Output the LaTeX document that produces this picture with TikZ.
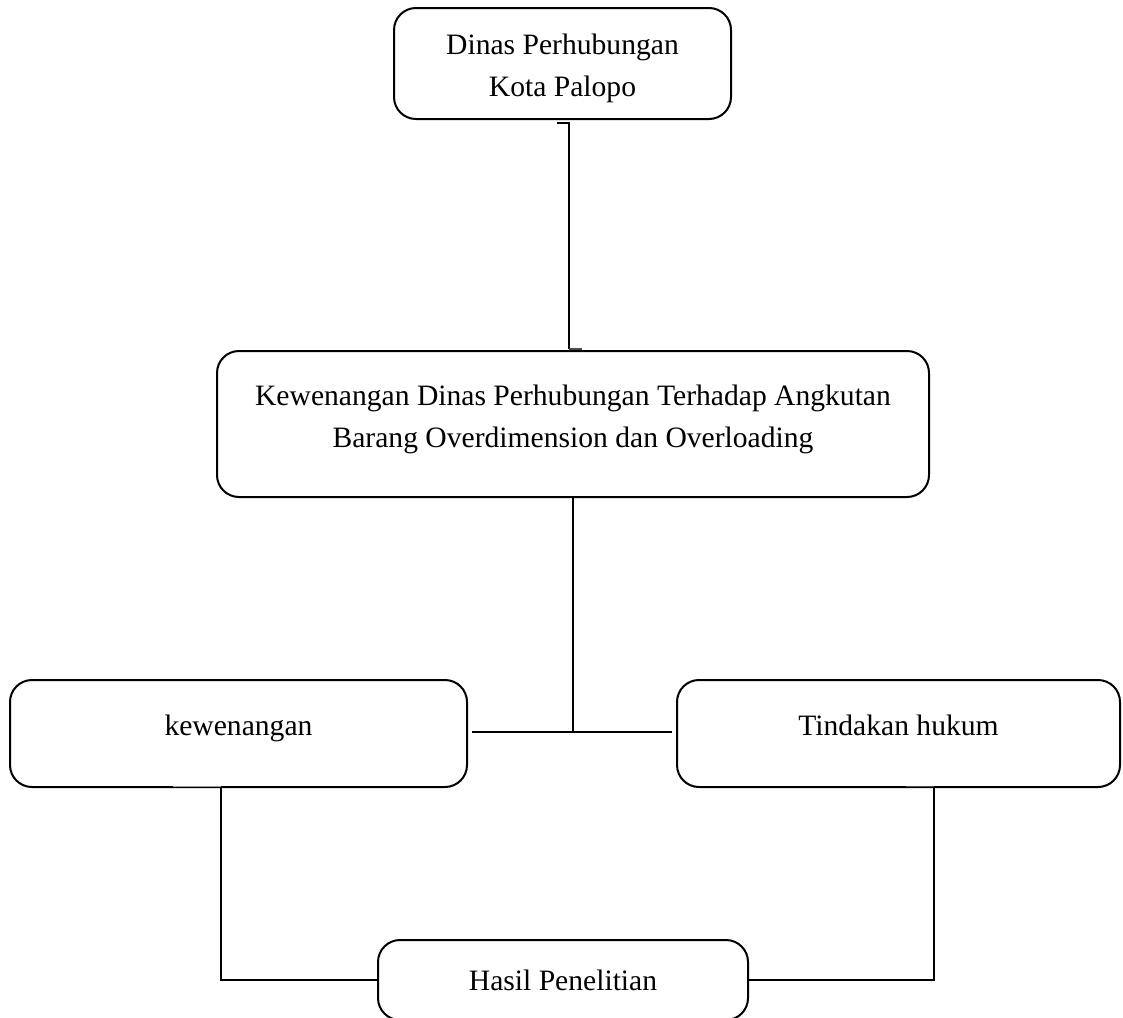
\documentclass[tikz,border=0pt]{standalone}
\usepackage{fontspec}
\setmainfont{Liberation Serif}
\usetikzlibrary{calc}
\newcommand{\boxtext}[2]{\raisebox{#1}[0pt][0pt]{\begin{tabular}[t]{@{}c@{}}#2\end{tabular}}}
\begin{document}
\begin{tikzpicture}[x=1pt,y=-1pt,
  box/.style={draw, line width=2pt, rounded corners=22pt, align=center, inner sep=0pt,
    font=\fontsize{29.6}{42}\selectfont},
  link/.style={line width=1.1pt},
  stub/.style={line width=1.6pt, black!70}]
\useasboundingbox (0,0) rectangle (1123,1017);
\node[box, minimum width=337pt, minimum height=111pt] (b1) at (562.5,63.5) {\boxtext{9pt}{Dinas Perhubungan\\Kota Palopo}};
\node[box, minimum width=712pt, minimum height=146pt] (b2) at (573,424) {\boxtext{19pt}{Kewenangan Dinas Perhubungan Terhadap Angkutan\\Barang Overdimension dan Overloading}};
\node[box, minimum width=457pt, minimum height=107pt] (kw) at (238.5,733.5) {\boxtext{-1.5pt}{kewenangan}};
\node[box, minimum width=443pt, minimum height=107pt] (th) at (898.5,733.5) {\boxtext{-1.5pt}{Tindakan hukum}};
\node[box, minimum width=370pt, minimum height=80pt, anchor=north] (hp) at (563,939) {\boxtext{-10.5pt}{Hasil Penelitian}};
% top connector
\coordinate (t1) at (569,123);
\coordinate (t2) at (569,349);
\draw[link] (557,123) -- (t1) -- (t2);
\draw[stub] (t2) -- (582,349);
% middle connector
\coordinate (mid) at (573,732);
\draw[link] (b2.south -| mid) -- (mid);
\draw[link] ($(kw.east)+(4,-1.5)$) -- ($(th.west)+(-4,-1.5)$);
% left connector
\coordinate (lc) at (221,786.5);
\draw[stub, black!40] (173,786.5) -- (lc);
\draw[link] (lc) -- (221,980) -- (221,980 -| hp.west);
% right connector
\coordinate (rc) at (934,786.5);
\draw[stub] (906,786.5) -- (rc);
\draw[link] (rc) -- (934,980) -- (934,980 -| hp.east);
\end{tikzpicture}
\end{document}
